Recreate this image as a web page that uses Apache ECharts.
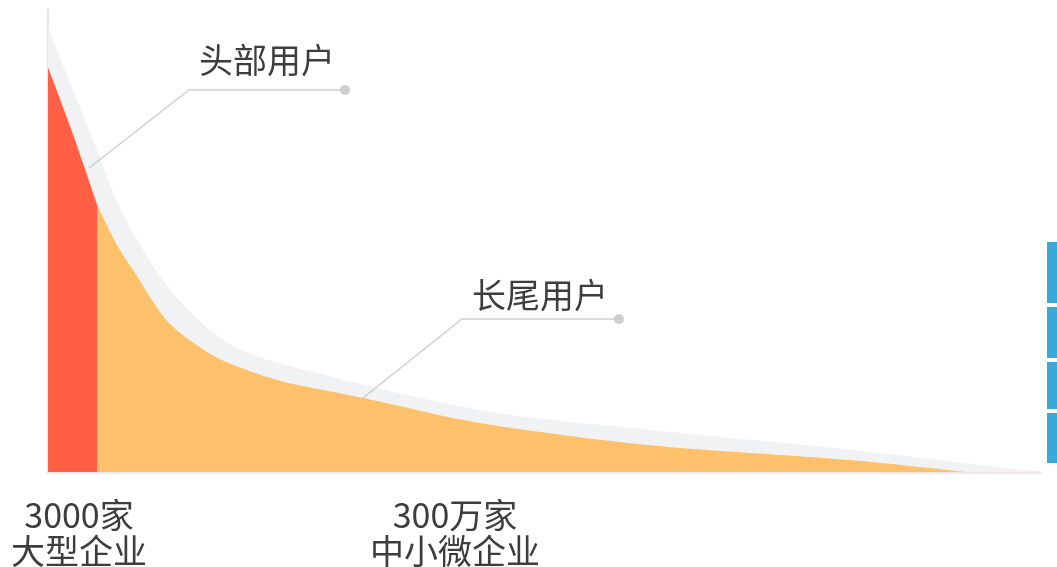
<!DOCTYPE html>
<html>
<head>
<meta charset="utf-8">
<script src="https://cdn.jsdelivr.net/npm/echarts@6/dist/echarts.min.js"></script>
<style>
html,body{margin:0;padding:0;background:#fff;}
#main{width:1057px;height:567px;}
</style>
</head>
<body>
<div id="main"></div>
<script>
// Share of enterprises (x, %) vs. demand level (y, %)
var headCurve = [[0, 87.3], [2.5, 73.0], [4.94, 57.7]];
var tailCurve = [[4.94, 57.7], [7.06, 48.6], [8.77, 43.0], [10.48, 37.1], [12.1, 32.4], [13.8, 29.2], [17.1, 24.6], [20.6, 21.6], [23.9, 19.4], [31.8, 16.0], [43.5, 10.6], [60.7, 5.8], [80.8, 2.6], [92.6, 0]];
var shadowCurve = [[0, 95.9], [5.24, 68.0], [6.45, 60.9], [8.77, 50.8], [12.1, 40.0], [15.5, 32.2], [18.9, 27.0], [23.9, 23.1], [43.5, 13.4], [60.7, 9.1], [80.8, 4.8], [100, 0]];
var annotations = ['头部用户', '长尾用户'];
var bottomLabels = [['3000家', '大型企业'], ['300万家', '中小微企业']];

var chart = echarts.init(document.getElementById('main'));
var font = '"Noto Sans CJK SC", "Noto Sans", sans-serif';
var textColor = '#3d3d3d';
var leaderColor = '#cfcfcf';

function areaSeries(data, color, z) {
  return {
    type: 'line', data: data, smooth: 0.3,
    showSymbol: false, symbol: 'none', z: z,
    lineStyle: {width: 0, color: color},
    areaStyle: {color: color, opacity: 1},
    silent: true
  };
}

chart.setOption({
  animation: false,
  grid: {left: 48, right: 17, top: 9, bottom: 95},
  xAxis: {
    type: 'value', min: 0, max: 100,
    axisLine: {show: true, lineStyle: {color: '#f1e7e7', width: 3}},
    axisTick: {show: false}, axisLabel: {show: false}, splitLine: {show: false}
  },
  yAxis: {
    type: 'value', min: 0, max: 100,
    axisLine: {show: true, lineStyle: {color: '#e6e6e6', width: 2}},
    axisTick: {show: false}, axisLabel: {show: false}, splitLine: {show: false}
  },
  series: [
    areaSeries(shadowCurve, '#f1f2f3', 1),
    areaSeries(tailCurve, '#fdc06b', 2),
    areaSeries(headCurve, '#ff5f45', 3)
  ],
  graphic: [
    {type: 'polyline', shape: {points: [[89, 168], [189, 90], [345, 90]]}, style: {stroke: leaderColor, lineWidth: 1.5, fill: null}, z: 10},
    {type: 'circle', shape: {cx: 345, cy: 90, r: 5}, style: {fill: leaderColor}, z: 10},
    {type: 'text', left: 199, top: 43, style: {text: annotations[0], font: '34px ' + font, fill: textColor}, z: 10},
    {type: 'polyline', shape: {points: [[363, 398], [462, 319], [619, 319]]}, style: {stroke: leaderColor, lineWidth: 1.5, fill: null}, z: 10},
    {type: 'circle', shape: {cx: 619, cy: 319, r: 5}, style: {fill: leaderColor}, z: 10},
    {type: 'text', left: 472, top: 278, style: {text: annotations[1], font: '34px ' + font, fill: textColor}, z: 10},
    {type: 'text', x: 79, y: 497, style: {text: bottomLabels[0].join('\n'), font: '34px ' + font, fill: textColor, align: 'center', lineHeight: 36}, z: 10},
    {type: 'text', x: 455, y: 497, style: {text: bottomLabels[1].join('\n'), font: '34px ' + font, fill: textColor, align: 'center', lineHeight: 36}, z: 10},
    {type: 'rect', shape: {x: 1047, y: 242, width: 12, height: 61}, style: {fill: '#3ba8da'}},
    {type: 'rect', shape: {x: 1047, y: 307, width: 12, height: 51}, style: {fill: '#3ba8da'}},
    {type: 'rect', shape: {x: 1047, y: 362, width: 12, height: 47}, style: {fill: '#3ba8da'}},
    {type: 'rect', shape: {x: 1047, y: 413, width: 12, height: 50}, style: {fill: '#3ba8da'}}
  ]
});
</script>
</body>
</html>
